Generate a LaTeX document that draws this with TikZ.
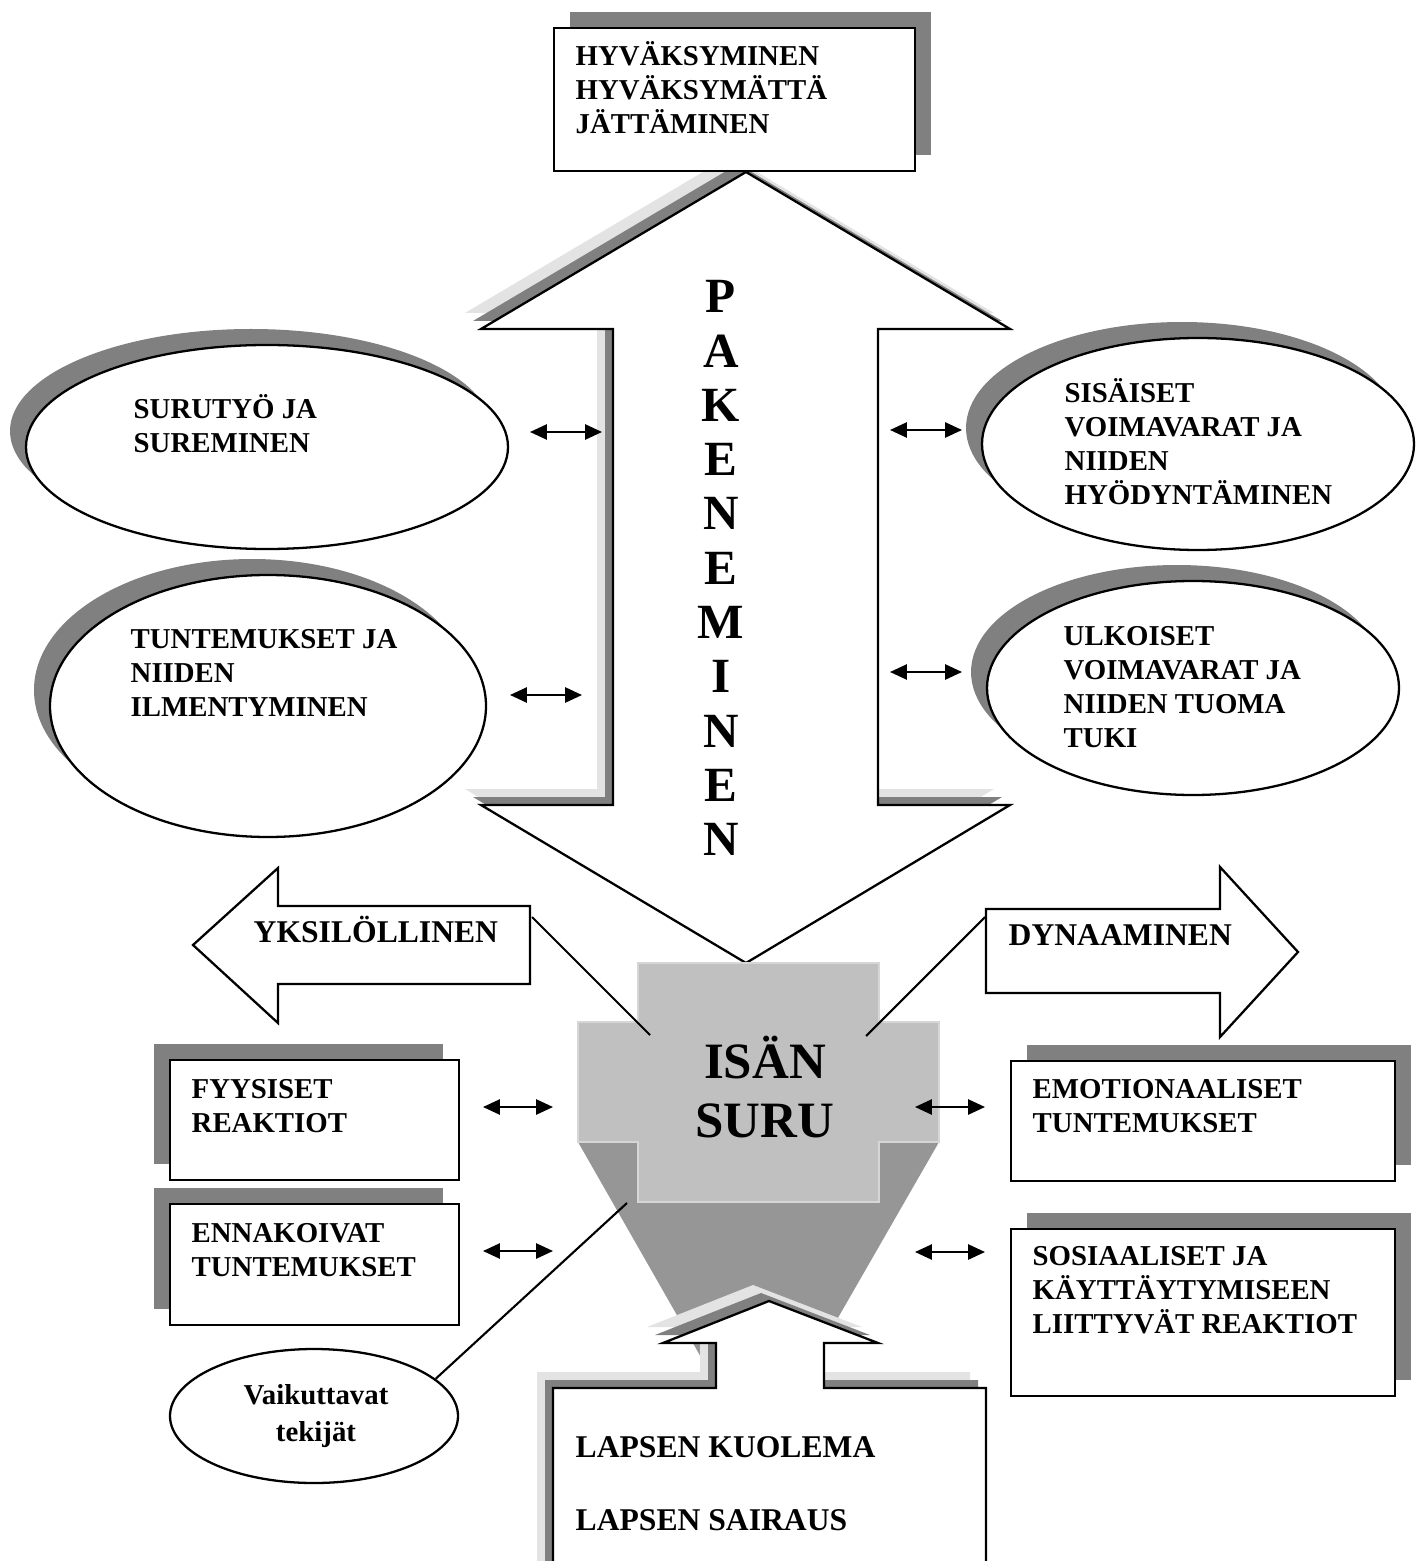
\documentclass[tikz,border=0pt]{standalone}
\usepackage{fontspec}
\setmainfont{Liberation Serif}
\usetikzlibrary{arrows.meta,shapes.geometric,shadows}

\definecolor{shadedark}{HTML}{808080}
\definecolor{shadelight}{HTML}{E3E3E3}
\definecolor{crossfill}{HTML}{C0C0C0}
\definecolor{crossedge}{HTML}{D6D6D6}
\definecolor{funnelfill}{HTML}{969696}

\newcommand{\boxfont}{\fontsize{8.2}{9.67}\selectfont\bfseries}
\newcommand{\arrowfont}{\fontsize{9}{11}\selectfont\bfseries}
\newcommand{\firststrut}{\rule{0pt}{7.5pt}}

\begin{document}
\begin{tikzpicture}[x=0.1mm,y=-0.1mm,
  outline/.style={draw=black,line width=0.65pt},
  boxshape/.style={rectangle,outline,fill=white,inner sep=0pt,anchor=north west},
  oval/.style={ellipse,outline,fill=white,inner sep=0pt},
  castleft/.style={general shadow={fill=shadedark,shadow xshift=-1.6mm,shadow yshift=1.6mm}},
  castright/.style={general shadow={fill=shadedark,shadow xshift=1.6mm,shadow yshift=1.6mm}},
  raised/.style={general shadow={fill=shadelight,shadow xshift=-1.6mm,shadow yshift=1.6mm},
                 general shadow={fill=shadedark,shadow xshift=-0.8mm,shadow yshift=0.8mm}},
  txt/.style={anchor=north west,inner sep=0pt,align=left,font=\boxfont},
  link/.style={draw=black,line width=0.6pt},
  twoway/.style={line width=0.6pt,{Triangle[length=4.8pt,width=4.3pt]}-{Triangle[length=4.8pt,width=4.3pt]}},
]
\useasboundingbox (0,0) rectangle (1415,1561);
\clip (0,0) rectangle (1415,1561);
\fill[white] (0,0) rectangle (1415,1561);

% central two-headed arrow
\draw[outline,fill=white,raised]
  (746,172) coordinate (upTip) -- (1010,329) -- (878,329) -- (878,805) -- (1010,805)
  -- (746,963) coordinate (downTip) -- (481,805) -- (613,805) -- (613,329) -- (481,329) -- cycle;

% top box
\node[boxshape,castright,minimum width=36.1mm,minimum height=14.3mm] (accept) at (553,27) {};

% ovals
\node[oval,castleft,minimum width=48.2mm,minimum height=20.4mm] (grief) at (267,447) {};
\node[oval,castleft,minimum width=43.6mm,minimum height=26.2mm] (feel) at (268,706) {};
\node[oval,castleft,minimum width=43.2mm,minimum height=21.2mm] (inner) at (1198,444) {};
\node[oval,castleft,minimum width=41.2mm,minimum height=21.4mm] (outer) at (1193,688) {};

% side arrows
\draw[outline,fill=white]
  (193,945) coordinate (indTip) -- (278,868) -- (278,906) -- (530,906) coordinate (indEnd)
  -- (530,984) -- (278,984) -- (278,1023) -- cycle;
\draw[outline,fill=white]
  (986,909) coordinate (dynEnd) -- (1220,909) -- (1220,867) -- (1298,952) coordinate (dynTip)
  -- (1220,1037) -- (1220,993) -- (986,993) -- cycle;

% father's grief: funnel and cross
\fill[funnelfill] (578,1142) -- (939,1142) -- (758,1457) -- cycle;
\filldraw[fill=crossfill,draw=crossedge,line width=0.4pt]
  (638,963) -- (879,963) -- (879,1022) -- (939,1022) -- (939,1142) -- (879,1142)
  -- (879,1202) -- (638,1202) -- (638,1142) -- (578,1142) -- (578,1022) -- (638,1022) -- cycle;
\coordinate (crossUL) at (650,1035);
\coordinate (crossUR) at (866,1036);
\coordinate (crossLL) at (627,1203);

% connecting lines
\coordinate (indLink) at (532,917);
\coordinate (dynLink) at (985,917);
\draw[link] (indLink) -- (crossUL);
\draw[link] (dynLink) -- (crossUR);

% child box with upward arrow
\draw[outline,fill=white,raised]
  (553,1388) -- (716,1388) -- (716,1343) -- (663,1343) -- (769,1301) coordinate (childTip)
  -- (878,1343) -- (824,1343) -- (824,1388) -- (986,1388) -- (986,1600) -- (553,1600) -- cycle;

% reaction boxes
\node[boxshape,castleft,minimum width=28.9mm,minimum height=12.0mm] (phys) at (169,1059) {};
\node[boxshape,castleft,minimum width=28.9mm,minimum height=12.1mm] (antic) at (169,1203) {};
\node[boxshape,castright,minimum width=38.4mm,minimum height=12.0mm] (emo) at (1010,1060) {};
\node[boxshape,castright,minimum width=38.4mm,minimum height=16.7mm] (soc) at (1010,1228) {};

% factors oval
\node[oval,minimum width=28.8mm,minimum height=13.4mm] (factors) at (314,1416) {};
\draw[link] (factors.17) -- (crossLL);

% two-way arrows
\coordinate (g1) at (530,432);  \coordinate (g2) at (602,432);
\coordinate (f1) at (510,695);  \coordinate (f2) at (582,695);
\coordinate (i1) at (890,430);  \coordinate (i2) at (962,430);
\coordinate (o1) at (890,672);  \coordinate (o2) at (962,672);
\coordinate (p1) at (483,1107); \coordinate (p2) at (553,1107);
\coordinate (a1) at (483,1251); \coordinate (a2) at (553,1251);
\coordinate (m1) at (915,1107); \coordinate (m2) at (985,1107);
\coordinate (s1) at (915,1252); \coordinate (s2) at (985,1252);
\foreach \u/\v in {g1/g2,f1/f2,i1/i2,o1/o2,p1/p2,a1/a2,m1/m2,s1/s2}
  \draw[twoway] (\u) -- (\v);

% texts
\node[txt] (tAccept) at (575,38.6) {\firststrut HYVÄKSYMINEN\\HYVÄKSYMÄTTÄ\\JÄTTÄMINEN};
\node[txt] (tGrief) at (133,391.6) {\firststrut SURUTYÖ JA\\SUREMINEN};
\node[txt] (tFeel) at (130,621.6) {\firststrut TUNTEMUKSET JA\\NIIDEN\\ILMENTYMINEN};
\node[txt] (tInner) at (1064,375.6) {\firststrut SISÄISET\\VOIMAVARAT JA\\NIIDEN\\HYÖDYNTÄMINEN};
\node[txt] (tOuter) at (1063,618.6) {\firststrut ULKOISET\\VOIMAVARAT JA\\NIIDEN TUOMA\\TUKI};
\node[txt] (tPhys) at (191,1071.6) {\firststrut FYYSISET\\REAKTIOT};
\node[txt] (tAntic) at (191,1215.6) {\firststrut ENNAKOIVAT\\TUNTEMUKSET};
\node[txt] (tEmo) at (1032,1071.6) {\firststrut EMOTIONAALISET\\TUNTEMUKSET};
\node[txt] (tSoc) at (1032,1238.6) {\firststrut SOSIAALISET JA\\KÄYTTÄYTYMISEEN\\LIITTYVÄT REAKTIOT};
\node[anchor=base west,inner sep=0pt,font=\arrowfont] (tInd) at (253,942) {YKSILÖLLINEN};
\node[anchor=base west,inner sep=0pt,font=\arrowfont] (tDyn) at (1008,945) {DYNAAMINEN};
\node[txt,font=\fontsize{9}{20.8}\selectfont\bfseries] (tChild) at (575,1428.9)
  {\rule{0pt}{8pt}LAPSEN KUOLEMA\\LAPSEN SAIRAUS};
\node[anchor=north,inner sep=0pt,align=center,font=\fontsize{8.2}{10.5}\selectfont\bfseries] (tFactors)
  at (316,1377.6) {\firststrut Vaikuttavat\\tekijät};
\node[anchor=north,inner sep=0pt,align=center,font=\fontsize{14}{15.45}\selectfont\bfseries] (tEscape)
  at (721,276.9) {\rule{0pt}{10pt}P\\A\\K\\E\\N\\E\\M\\I\\N\\E\\N};
\node[anchor=north,inner sep=0pt,align=center,font=\fontsize{14.5}{16.8}\selectfont\bfseries] (tFather)
  at (765,1032.3) {\rule{0pt}{13pt}ISÄN\\SURU};
\end{tikzpicture}
\end{document}
